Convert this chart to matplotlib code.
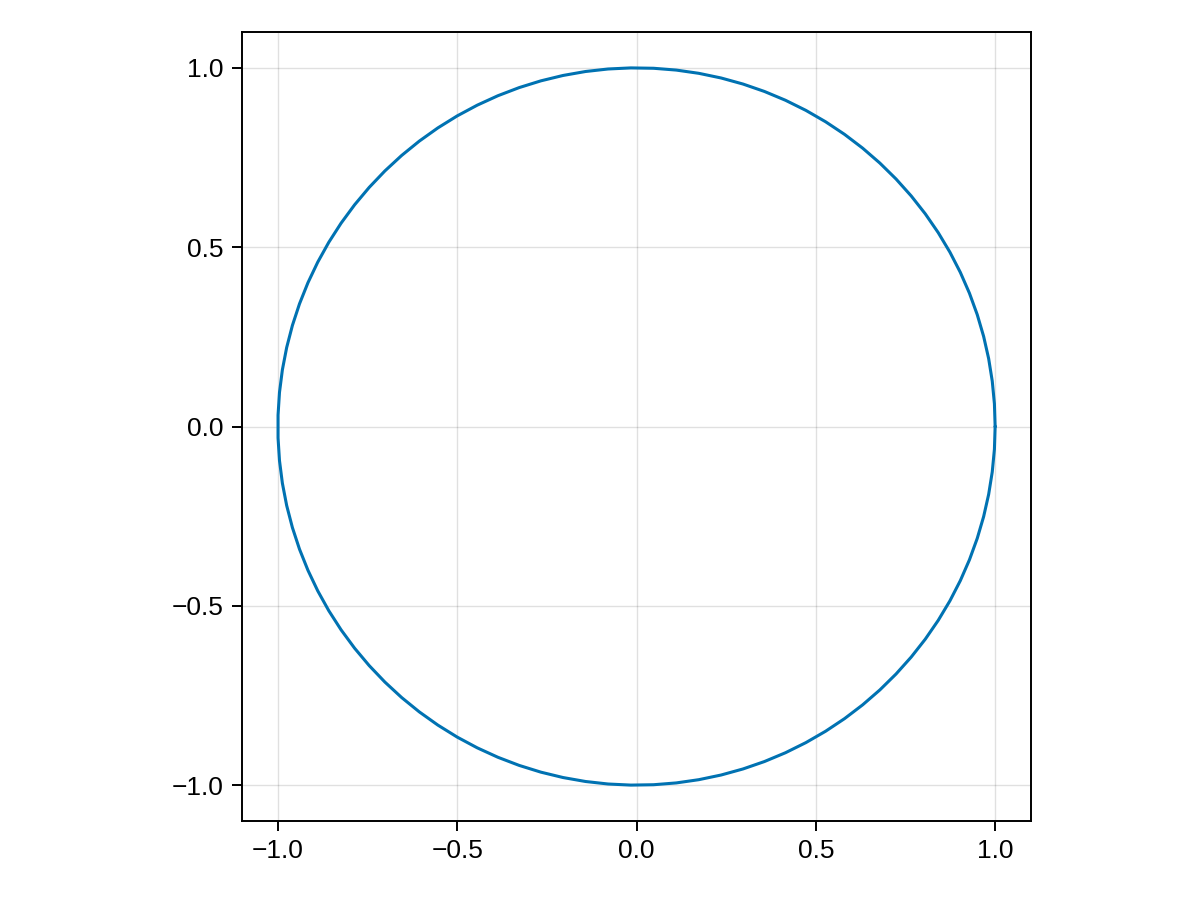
import numpy as np
import matplotlib.pyplot as plt

plt.rcParams['font.family'] = ['Liberation Sans', 'DejaVu Sans']

# unit circle sampled at n_points angles
radius = 1.0
n_points = 100
angles = np.linspace(0, 2 * np.pi, n_points)
xs = radius * np.cos(angles)
ys = radius * np.sin(angles)

ticks = [-1.0, -0.5, 0.0, 0.5, 1.0]
tick_labels = ['\u22121.0', '\u22120.5', '0.0', '0.5', '1.0']

fig = plt.figure(figsize=(12, 9), dpi=100)
ax = fig.add_axes([242 / 1200, 79 / 900, 789 / 1200, 789 / 900])

ax.plot(xs, ys, color='#0072B2', linewidth=2.2,
        solid_capstyle='round', solid_joinstyle='round')

ax.set_xlim(-1.1, 1.1)
ax.set_ylim(-1.1, 1.1)
ax.set_xticks(ticks)
ax.set_yticks(ticks)
ax.set_xticklabels(tick_labels)
ax.set_yticklabels(tick_labels)
ax.grid(True, color='black', alpha=0.12, linewidth=1.0)
ax.set_axisbelow(True)
ax.tick_params(direction='out', length=7, width=1.4, labelsize=19, pad=6)
for s in ax.spines.values():
    s.set_linewidth(1.4)

fig.savefig('out.png', dpi=100)
